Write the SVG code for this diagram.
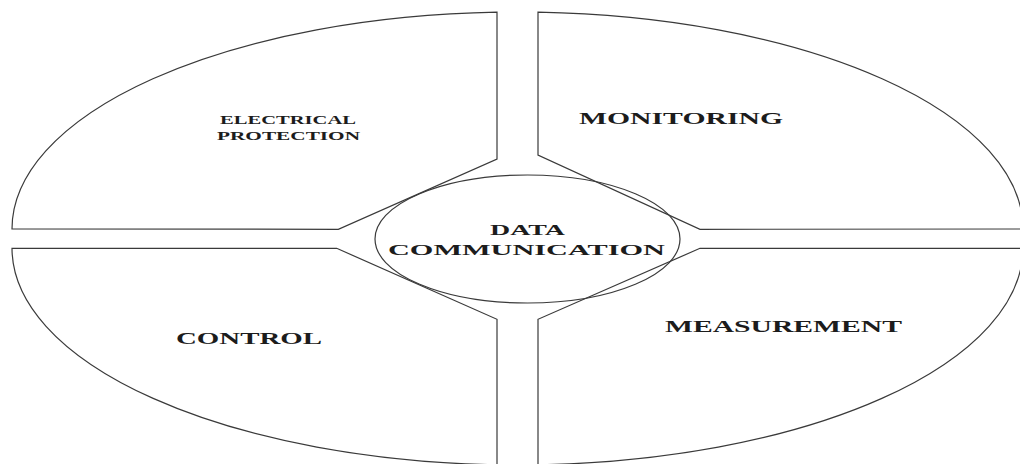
<svg xmlns="http://www.w3.org/2000/svg" width="1020" height="464" viewBox="0 0 1020 464">
<style>
.q{fill:#fff;stroke:#3a3a3a;stroke-width:1.2;stroke-linejoin:miter}
.c{fill:none;stroke:#3a3a3a;stroke-width:1.2}
.t{font-family:"Liberation Serif","Times New Roman",serif;font-weight:bold;fill:#1c1c1c}
</style>
<rect width="1020" height="464" fill="#fff"/>
<g id="electrical-protection">
<path class="q" d="M 12 229 L 338.3 229.3 L 497 159 L 497 12.2 A 505.5 217 0 0 0 12 229 Z"/>
<text class="t" x="220" y="124" font-size="13.5" textLength="136" lengthAdjust="spacingAndGlyphs">ELECTRICAL</text>
<text class="t" x="217" y="140" font-size="13.5" textLength="143" lengthAdjust="spacingAndGlyphs">PROTECTION</text>
</g>
<g id="monitoring">
<path class="q" d="M 538 155 L 538 12.2 A 505.5 217 0 0 1 1023 229 L 700 229.3 Z"/>
<text class="t" x="579" y="124" font-size="16" textLength="204" lengthAdjust="spacingAndGlyphs">MONITORING</text>
</g>
<g id="control">
<path class="q" d="M 12 248.3 L 336.7 248.3 L 497 319.3 L 497 464.8 A 505.5 217 0 0 1 12 248.3 Z"/>
<text class="t" x="176" y="344" font-size="16" textLength="146" lengthAdjust="spacingAndGlyphs">CONTROL</text>
</g>
<g id="measurement">
<path class="q" d="M 700 248.3 L 1023 248.3 A 505.5 217 0 0 1 538 464.8 L 538 319.3 Z"/>
<text class="t" x="665" y="331.5" font-size="16" textLength="237" lengthAdjust="spacingAndGlyphs">MEASUREMENT</text>
</g>
<g id="data-communication">
<ellipse class="c" cx="527.5" cy="239" rx="152.5" ry="64"/>
<text class="t" x="490" y="234.5" font-size="15" textLength="75" lengthAdjust="spacingAndGlyphs">DATA</text>
<text class="t" x="388" y="254.5" font-size="15" textLength="277" lengthAdjust="spacingAndGlyphs">COMMUNICATION</text>
</g>
<g id="connectors"/>
</svg>
